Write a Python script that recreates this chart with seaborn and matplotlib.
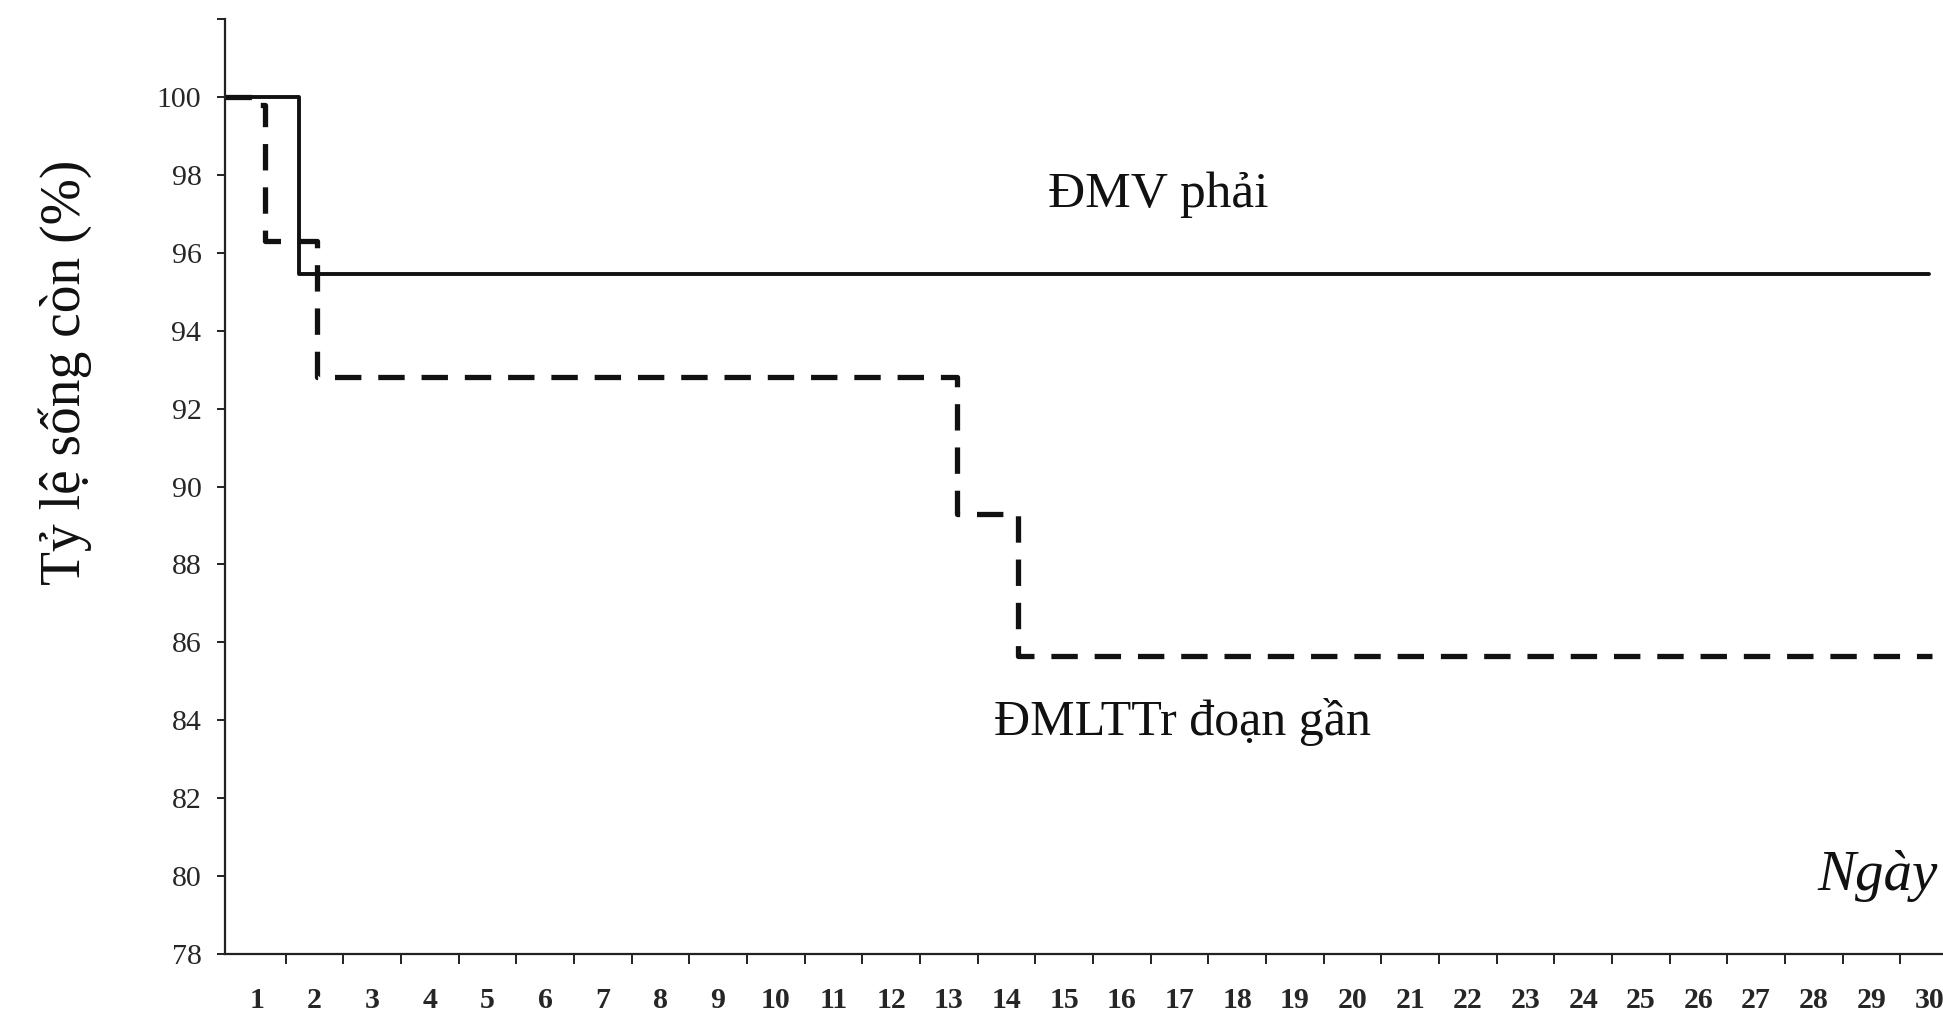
import numpy as np
import pandas as pd
import matplotlib
matplotlib.use("Agg")
import matplotlib.pyplot as plt
import seaborn as sns

# Kaplan-Meier style survival steps (time in days, survival in %)
rca_days = [0.45, 1.73, 30.0]
rca_survival = [100.0, 95.45, 95.45]

lad_days = [0.45, 0.95, 1.14, 2.05, 13.15, 14.2, 30.05]
lad_survival = [100.0, 99.8, 96.3, 92.8, 89.3, 85.65, 85.65]

day_labels = [str(d) for d in range(1, 31)]
y_ticks = list(range(78, 103, 2))

rca_name = "ĐMV phải"
lad_name = "ĐMLTTr đoạn gần"
y_title = "Tỷ lệ sống còn (%)"
x_title = "Ngày"

sns.set_theme(style="white")
serif = ["Liberation Serif", "DejaVu Serif"]
plt.rcParams["font.family"] = serif

W, H, DPI = 1943, 1026, 100
fig = plt.figure(figsize=(W / DPI, H / DPI), dpi=DPI)
left_px, right_px, top_px, bottom_px = 225, 1943, 19, 954
ax = fig.add_axes([left_px / W, 1 - bottom_px / H,
                   (right_px - left_px) / W, (bottom_px - top_px) / H])

df_rca = pd.DataFrame({"day": rca_days, "surv": rca_survival})
df_lad = pd.DataFrame({"day": lad_days, "surv": lad_survival})

sns.lineplot(data=df_rca, x="day", y="surv", ax=ax, color="#111111",
             lw=2.8, estimator=None, sort=False, drawstyle="steps-post")
sns.lineplot(data=df_lad, x="day", y="surv", ax=ax, color="#111111",
             lw=3.8, estimator=None, sort=False, drawstyle="steps-post")
ax.lines[-1].set_dashes((5, 3.2))

ax.set_xlim(0.45, 30.24)
ax.set_ylim(78, 102)

# y axis: ticks every 2, top tick unlabeled
ax.set_yticks(y_ticks)
ax.set_yticklabels([str(v) if v <= 100 else "" for v in y_ticks])
ax.tick_params(axis="y", direction="out", length=6, width=1.4, color="#222222",
               pad=11, labelsize=21.5, left=True)

# x axis: day labels centred in each interval, tick marks on the boundaries
ax.set_xticks(range(1, 31))
ax.set_xticklabels(day_labels, fontweight="bold")
ax.set_xticks(np.arange(1.5, 30, 1.0), minor=True)
ax.tick_params(axis="x", which="major", length=0, pad=24, labelsize=21.5)
ax.tick_params(axis="x", which="minor", direction="out", length=7, width=1.4,
               color="#222222", bottom=True)

for side in ("top", "right"):
    ax.spines[side].set_visible(False)
for side in ("left", "bottom"):
    ax.spines[side].set_color("#222222")
    ax.spines[side].set_linewidth(1.6)

ax.set_xlabel("")
ax.set_ylabel("")

ax.text(16.63, 97.18, rca_name, ha="center", va="baseline", fontsize=37,
        color="#111111")
ax.text(17.06, 83.62, lad_name, ha="center", va="baseline", fontsize=36,
        color="#111111")
ax.text(30.15, 79.64, x_title, ha="right", va="baseline", fontsize=41,
        style="italic", color="#111111")

fig.text(65 / W, 1 - 372 / H, y_title, rotation=90, ha="center", va="center",
         fontsize=40, color="#111111")

fig.savefig("out.png", dpi=DPI, facecolor="white")
